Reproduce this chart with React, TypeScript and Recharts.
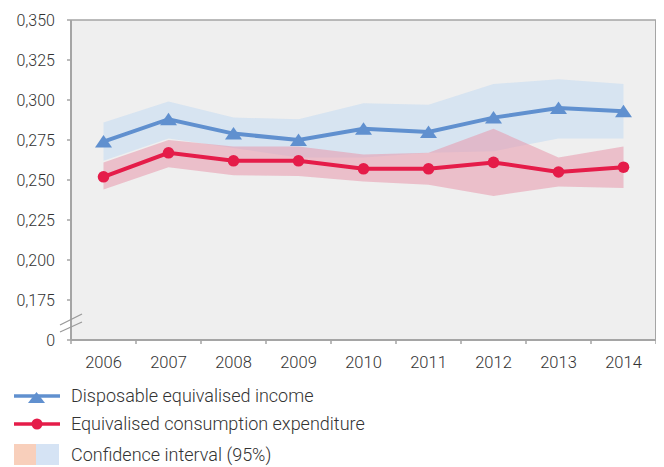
import React from 'react';
import { ComposedChart, Line, Area, XAxis, YAxis, CartesianGrid } from 'recharts';

const years = ['2006', '2007', '2008', '2009', '2010', '2011', '2012', '2013', '2014'];
const income = [0.274, 0.288, 0.279, 0.275, 0.282, 0.280, 0.289, 0.295, 0.293];
const consumption = [0.252, 0.267, 0.262, 0.262, 0.257, 0.257, 0.261, 0.255, 0.258];
const incomeLow = [0.262, 0.276, 0.270, 0.264, 0.264, 0.267, 0.268, 0.276, 0.276];
const incomeHigh = [0.286, 0.299, 0.289, 0.288, 0.298, 0.297, 0.310, 0.313, 0.310];
const consLow = [0.244, 0.258, 0.253, 0.2525, 0.249, 0.247, 0.240, 0.246, 0.245];
const consHigh = [0.261, 0.275, 0.271, 0.271, 0.266, 0.267, 0.282, 0.264, 0.271];
const yTicks = [0.15, 0.175, 0.2, 0.225, 0.25, 0.275, 0.3, 0.325, 0.35];

const legendItems = [
  'Disposable equivalised income',
  'Equivalised consumption expenditure',
  'Confidence interval (95%)',
];

const data = years.map((y, i) => ({
  year: y,
  income: income[i],
  consumption: consumption[i],
  incomeBand: [incomeLow[i], incomeHigh[i]],
  consBand: [consLow[i], consHigh[i]],
}));

const BLUE = '#6090cf';
const RED = '#e51c49';
const GRID = '#a5a5a5';
const TEXT = '#333333';
const FONT = 'Roboto, "Noto Sans", sans-serif';

const CHART_W = 656;
const CHART_H = 372;
const Y_W = 63;
const R_W = 8;
const PLOT_W = CHART_W - Y_W - R_W;
const HALF_BAND = PLOT_W / years.length / 2;

const fmt = (v: number) => (Math.abs(v - 0.15) < 1e-9 ? '0' : v.toFixed(3).replace('.', ','));

const YTick = (props: any) => {
  const { x, y, payload } = props;
  const isBreak = Math.abs(payload.value - 0.15) < 1e-9;
  return (
    <g>
      <text x={x} y={y} dy={5.5} textAnchor="end" fill={TEXT} fontSize={16} fontWeight={300} fontFamily={FONT}>
        {fmt(payload.value)}
      </text>
      {isBreak && (
        <g stroke="#9a9a9a" strokeWidth={1.3}>
          <line x1={x + 5} y1={y - 15} x2={x + 27} y2={y - 26} />
          <line x1={x + 5} y1={y - 8} x2={x + 27} y2={y - 18} />
        </g>
      )}
    </g>
  );
};

const XTick = (props: any) => {
  const { x, y, payload, index } = props;
  return (
    <g>
      {index === 0 && (
        <line x1={x - HALF_BAND} y1={y} x2={x - HALF_BAND} y2={y + 4} stroke={GRID} strokeWidth={1.5} />
      )}
      <line x1={x + HALF_BAND} y1={y} x2={x + HALF_BAND} y2={y + 4} stroke={GRID} strokeWidth={1.5} />
      <text x={x} y={y + 22} dy={6} textAnchor="middle" fill={TEXT} fontSize={16.5} fontWeight={300} fontFamily={FONT}>
        {payload.value}
      </text>
    </g>
  );
};

const TriangleDot = (props: any) => {
  const { cx, cy } = props;
  if (cx == null || cy == null) return null;
  return <path d={`M${cx},${cy - 6.5} L${cx + 8.5},${cy + 6} L${cx - 8.5},${cy + 6} Z`} fill={BLUE} />;
};

const CircleDot = (props: any) => {
  const { cx, cy } = props;
  if (cx == null || cy == null) return null;
  return <circle cx={cx} cy={cy} r={5.8} fill={RED} />;
};

export default function App() {
  return (
    <div style={{ width: CHART_W, fontFamily: FONT }}>
      <ComposedChart
        width={CHART_W}
        height={CHART_H}
        data={data}
        margin={{ top: 12, right: 0, left: 0, bottom: 0 }}
      >
        <CartesianGrid horizontal vertical={false} fill="#efefef" stroke={GRID} strokeWidth={1.5} />
        <XAxis
          dataKey="year"
          height={40}
          padding={{ left: HALF_BAND, right: HALF_BAND }}
          axisLine={{ stroke: GRID, strokeWidth: 2 }}
          tickLine={false}
          tickSize={0}
          tickMargin={0}
          tick={<XTick />}
          interval={0}
        />
        <YAxis
          yAxisId="l"
          width={Y_W}
          domain={[0.15, 0.35]}
          ticks={yTicks}
          type="number"
          allowDataOverflow
          axisLine={{ stroke: GRID, strokeWidth: 2 }}
          tickLine={{ stroke: GRID, strokeWidth: 1.5 }}
          tickSize={4}
          tickMargin={12}
          tick={<YTick />}
          interval={0}
        />
        <YAxis
          yAxisId="r"
          orientation="right"
          width={R_W}
          domain={[0.15, 0.35]}
          type="number"
          axisLine={{ stroke: GRID, strokeWidth: 2 }}
          tick={false}
          tickLine={false}
        />
        <Area
          yAxisId="l"
          dataKey="incomeBand"
          type="linear"
          stroke="none"
          fill="#c6dcf2"
          fillOpacity={0.6}
          isAnimationActive={false}
        />
        <Area
          yAxisId="l"
          dataKey="consBand"
          type="linear"
          stroke="none"
          fill="#e798ab"
          fillOpacity={0.55}
          isAnimationActive={false}
        />
        <Line
          yAxisId="l"
          dataKey="income"
          type="linear"
          stroke={BLUE}
          strokeWidth={4}
          dot={<TriangleDot />}
          activeDot={false}
          isAnimationActive={false}
        />
        <Line
          yAxisId="l"
          dataKey="consumption"
          type="linear"
          stroke={RED}
          strokeWidth={4}
          dot={<CircleDot />}
          activeDot={false}
          isAnimationActive={false}
        />
      </ComposedChart>
      <svg width={CHART_W} height={87} style={{ display: 'block' }}>
        <g>
          <line x1={6} y1={16} x2={52} y2={16} stroke={BLUE} strokeWidth={3.5} />
          <path d="M28.5,12 L37,23 L20,23 Z" fill={BLUE} />
          <text x={63} y={16} dy={6} fill={TEXT} fontSize={18} fontWeight={300} fontFamily={FONT}>
            {legendItems[0]}
          </text>
        </g>
        <g>
          <line x1={6} y1={44} x2={52} y2={44} stroke={RED} strokeWidth={3.5} />
          <circle cx={29} cy={44} r={5.5} fill={RED} />
          <text x={63} y={44} dy={6} fill={TEXT} fontSize={18} fontWeight={300} fontFamily={FONT}>
            {legendItems[1]}
          </text>
        </g>
        <g>
          <rect x={6} y={64} width={22} height={21} fill="#f8cfbb" />
          <rect x={28} y={64} width={23} height={21} fill="#d5e3f4" />
          <text x={63} y={75} dy={6} fill={TEXT} fontSize={18} fontWeight={300} fontFamily={FONT}>
            {legendItems[2]}
          </text>
        </g>
      </svg>
    </div>
  );
}
